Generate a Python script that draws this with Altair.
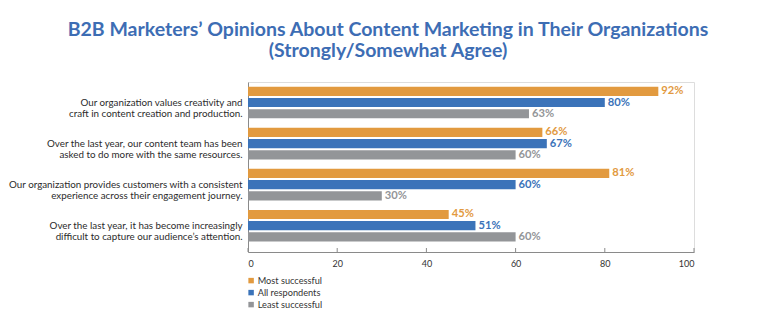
import altair as alt
import pandas as pd

statements = [
    "Our organization values creativity and|craft in content creation and production.",
    "Over the last year, our content team has been|asked to do more with the same resources.",
    "Our organization provides customers with a consistent|experience across their engagement journey.",
    "Over the last year, it has become increasingly|difficult to capture our audience’s attention.",
]
series = ["Most successful", "All respondents", "Least successful"]
most_successful = [92, 66, 81, 45]
all_respondents = [80, 67, 60, 51]
least_successful = [63, 60, 30, 60]
colors = ["#E29A3F", "#3B73B9", "#939598"]
x_ticks = [0, 20, 40, 60, 80, 100]

rows = []
for s, vals in zip(series, [most_successful, all_respondents, least_successful]):
    for st, v in zip(statements, vals):
        rows.append({"statement": st, "series": s, "value": v, "label": f"{v}%"})
df = pd.DataFrame(rows)
ticks_df = pd.DataFrame({"t": x_ticks})

W, H = 446, 170

base = alt.Chart(df).encode(
    y=alt.Y(
        "statement:N",
        sort=statements,
        scale=alt.Scale(paddingInner=0.23, paddingOuter=0.185, align=0.31),
        axis=alt.Axis(
            title=None,
            labelExpr="split(datum.label, '|')",
            labelAlign="right",
            labelBaseline="middle",
            labelFont="Lato",
            labelFontSize=9.8,
            labelLineHeight=11,
            labelColor="#2b2b2b",
            labelPadding=6,
            labelLimit=300,
            ticks=False,
            domainColor="#8a8a8a",
        ),
    ),
    yOffset=alt.YOffset("series:N", sort=series, scale=alt.Scale(paddingInner=0.18, paddingOuter=0)),
    x=alt.X(
        "value:Q",
        scale=alt.Scale(domain=[0, 100]),
        axis=alt.Axis(
            title=None,
            values=x_ticks,
            grid=False,
            ticks=False,
            labelFont="Lato",
            labelFontSize=9,
            labelColor="#333333",
            labelPadding=7,
            domainColor="#8a8a8a",
        ),
    ),
    color=alt.Color(
        "series:N",
        sort=series,
        scale=alt.Scale(domain=series, range=colors),
        legend=alt.Legend(
            title=None,
            orient="none",
            legendX=-1.5,
            legendY=194,
            symbolType="square",
            symbolSize=30,
            symbolStrokeWidth=0,
            labelFont="Lato",
            labelFontSize=9.2,
            labelColor="#333333",
            labelOffset=2,
            rowPadding=2,
            padding=0,
        ),
    ),
)

bars = base.mark_bar()
texts = base.mark_text(align="left", baseline="middle", dx=3, font="Lato", fontWeight="bold", fontSize=11.2).encode(
    text="label:N"
)
tick_marks = alt.Chart(ticks_df).mark_rule(color="#8a8a8a", strokeWidth=1).encode(
    x="t:Q", y=alt.value(H - 4), y2=alt.value(H)
)

chart = (
    alt.layer(bars, texts, tick_marks)
    .properties(
        width=W,
        height=H,
        autosize=alt.AutoSizeParams(type="none"),
        padding={"left": 248, "top": 82, "right": 66, "bottom": 70},
        title=alt.TitleParams(
            ["B2B Marketers’ Opinions About Content Marketing in Their Organizations", "(Strongly/Somewhat Agree)"],
            anchor="middle",
            dx=-83,
            offset=21,
            font="Lato",
            fontSize=19.5,
            fontWeight="bold",
            lineHeight=21,
            color="#3D6DB4",
        ),
    )
    .configure_view(stroke=None)
    .configure(background="white")
)

chart.save("out.html", embed_options={"renderer": "svg", "actions": False})
